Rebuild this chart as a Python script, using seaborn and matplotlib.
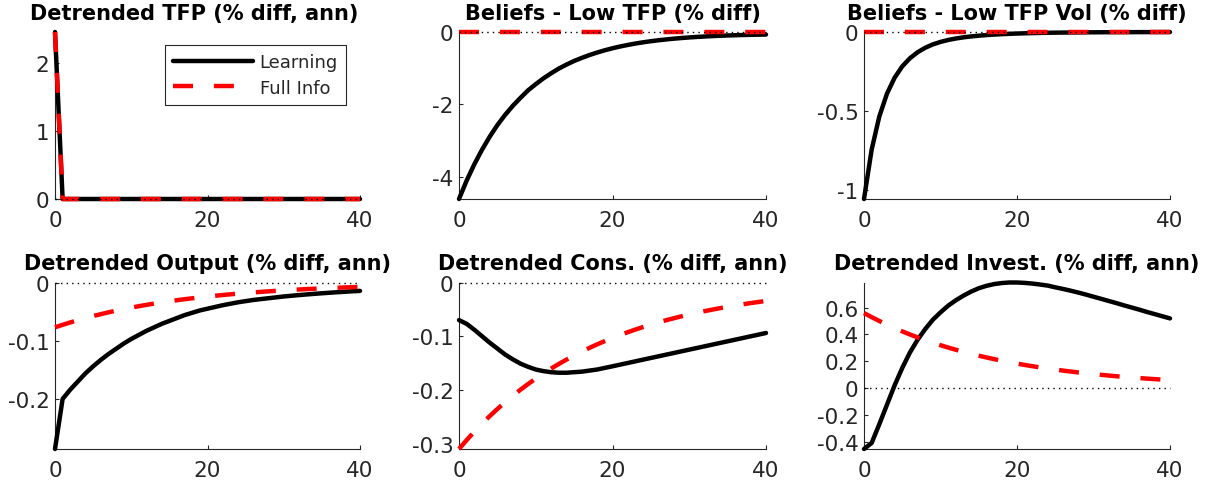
import matplotlib
matplotlib.use("Agg")
import matplotlib.pyplot as plt
import seaborn as sns
import pandas as pd
from matplotlib.ticker import FixedLocator, FuncFormatter

# Impulse-response horizon (quarters)
quarters = list(range(41))

# Detrended TFP (% diff, ann)
tfp_learning = [2.45, 0, 0, 0, 0, 0, 0, 0, 0, 0, 0, 0, 0, 0, 0, 0, 0, 0, 0, 0, 0,
                0, 0, 0, 0, 0, 0, 0, 0, 0, 0, 0, 0, 0, 0, 0, 0, 0, 0, 0, 0]
tfp_full = [2.45, 0, 0, 0, 0, 0, 0, 0, 0, 0, 0, 0, 0, 0, 0, 0, 0, 0, 0, 0, 0,
            0, 0, 0, 0, 0, 0, 0, 0, 0, 0, 0, 0, 0, 0, 0, 0, 0, 0, 0, 0]

# Beliefs - Low TFP (% diff)
low_tfp_learning = [-4.61, -4.10, -3.65, -3.25, -2.89, -2.57, -2.29, -2.04, -1.82, -1.61,
                    -1.44, -1.28, -1.14, -1.01, -0.90, -0.80, -0.715, -0.636, -0.567, -0.504,
                    -0.449, -0.400, -0.357, -0.318, -0.284, -0.254, -0.228, -0.205, -0.184, -0.166,
                    -0.150, -0.136, -0.124, -0.113, -0.104, -0.096, -0.089, -0.083, -0.078, -0.074,
                    -0.070]
low_tfp_full = [0, 0, 0, 0, 0, 0, 0, 0, 0, 0, 0, 0, 0, 0, 0, 0, 0, 0, 0, 0, 0,
                0, 0, 0, 0, 0, 0, 0, 0, 0, 0, 0, 0, 0, 0, 0, 0, 0, 0, 0, 0]

# Beliefs - Low TFP Vol (% diff)
low_vol_learning = [-1.055, -0.743, -0.534, -0.390, -0.289, -0.217, -0.166, -0.128, -0.0997, -0.0784,
                    -0.0626, -0.0505, -0.0411, -0.0338, -0.0280, -0.0233, -0.0194, -0.0163, -0.0137, -0.0115,
                    -0.0097, -0.0082, -0.0069, -0.0058, -0.0049, -0.0042, -0.0036, -0.0031, -0.0026, -0.0022,
                    -0.0019, -0.0016, -0.0014, -0.0012, -0.0010, -0.0009, -0.0008, -0.0007, -0.0006, -0.0005,
                    -0.0004]
low_vol_full = [0, 0, 0, 0, 0, 0, 0, 0, 0, 0, 0, 0, 0, 0, 0, 0, 0, 0, 0, 0, 0,
                0, 0, 0, 0, 0, 0, 0, 0, 0, 0, 0, 0, 0, 0, 0, 0, 0, 0, 0, 0]

# Detrended Output (% diff, ann)
output_learning = [-0.286, -0.200, -0.184, -0.170, -0.156, -0.144, -0.133, -0.123, -0.114, -0.105,
                   -0.097, -0.090, -0.083, -0.077, -0.071, -0.066, -0.061, -0.056, -0.052, -0.048,
                   -0.045, -0.042, -0.039, -0.0365, -0.034, -0.032, -0.030, -0.0285, -0.027, -0.0255,
                   -0.024, -0.0228, -0.0216, -0.0205, -0.0195, -0.0185, -0.0176, -0.0167, -0.0159, -0.0151,
                   -0.0144]
output_full = [-0.0770, -0.0727, -0.0686, -0.0647, -0.0610, -0.0576, -0.0544, -0.0513, -0.0484, -0.0457,
               -0.0431, -0.0407, -0.0384, -0.0362, -0.0342, -0.0323, -0.0304, -0.0287, -0.0271, -0.0256,
               -0.0241, -0.0228, -0.0215, -0.0203, -0.0191, -0.0180, -0.0170, -0.0161, -0.0152, -0.0143,
               -0.0135, -0.0127, -0.0120, -0.0113, -0.0107, -0.0101, -0.0095, -0.0090, -0.0085, -0.0080,
               -0.0076]

# Detrended Cons. (% diff, ann)
cons_learning = [-0.070, -0.077, -0.088, -0.100, -0.112, -0.123, -0.134, -0.143, -0.151, -0.157,
                 -0.162, -0.165, -0.167, -0.168, -0.168, -0.167, -0.166, -0.164, -0.162, -0.159,
                 -0.156, -0.1529, -0.1498, -0.1467, -0.1436, -0.1405, -0.1374, -0.1343, -0.1312, -0.1281,
                 -0.1250, -0.1219, -0.1188, -0.1157, -0.1126, -0.1095, -0.1064, -0.1033, -0.1002, -0.0971,
                 -0.0940]
cons_full = [-0.310, -0.2934, -0.2777, -0.2629, -0.2488, -0.2355, -0.2229, -0.2110, -0.1997, -0.1890,
             -0.1789, -0.1693, -0.1603, -0.1517, -0.1436, -0.1359, -0.1286, -0.1217, -0.1152, -0.1091,
             -0.1032, -0.0977, -0.0925, -0.0875, -0.0828, -0.0784, -0.0742, -0.0702, -0.0665, -0.0629,
             -0.0595, -0.0564, -0.0533, -0.0505, -0.0478, -0.0452, -0.0428, -0.0405, -0.0383, -0.0363,
             -0.0343]

# Detrended Invest. (% diff, ann)
invest_learning = [-0.455, -0.410, -0.270, -0.125, 0.020, 0.150, 0.265, 0.360, 0.440, 0.510,
                   0.565, 0.615, 0.655, 0.690, 0.720, 0.745, 0.763, 0.776, 0.784, 0.788,
                   0.788, 0.785, 0.780, 0.773, 0.765, 0.752, 0.740, 0.727, 0.713, 0.698,
                   0.682, 0.666, 0.650, 0.634, 0.617, 0.601, 0.585, 0.568, 0.552, 0.536,
                   0.520]
invest_full = [0.560, 0.5295, 0.5006, 0.4734, 0.4476, 0.4232, 0.4001, 0.3783, 0.3577, 0.3382,
               0.3198, 0.3024, 0.2859, 0.2703, 0.2556, 0.2416, 0.2285, 0.2160, 0.2042, 0.1931,
               0.1826, 0.1726, 0.1632, 0.1543, 0.1459, 0.1380, 0.1305, 0.1233, 0.1166, 0.1103,
               0.1043, 0.0986, 0.0932, 0.0881, 0.0833, 0.0788, 0.0745, 0.0704, 0.0666, 0.0630,
               0.0595]

titles = ["Detrended TFP (% diff, ann)", "Beliefs - Low TFP (% diff)",
          "Beliefs - Low TFP Vol (% diff)", "Detrended Output (% diff, ann)",
          "Detrended Cons. (% diff, ann)", "Detrended Invest. (% diff, ann)"]
series_learning = [tfp_learning, low_tfp_learning, low_vol_learning,
                   output_learning, cons_learning, invest_learning]
series_full = [tfp_full, low_tfp_full, low_vol_full,
               output_full, cons_full, invest_full]
y_ticks = [[0, 1, 2], [-4, -2, 0], [-1, -0.5, 0], [-0.2, -0.1, 0],
           [-0.3, -0.2, -0.1, 0], [-0.4, -0.2, 0, 0.2, 0.4, 0.6]]
x_ticks = [0, 20, 40]
legend_labels = ["Learning", "Full Info"]

sns.set_theme(style="white")
plt.rcParams["font.family"] = ["DejaVu Sans"]
plt.rcParams["axes.unicode_minus"] = False

W, H = 1207, 489
fig = plt.figure(figsize=(W / 100, H / 100), dpi=100)
fig.patch.set_facecolor("white")

# axes boxes in pixels: (left, right) per column, (top, bottom) per row
col_x = [(55, 360), (459, 766), (864, 1170)]
row_y = [(33, 200), (283.5, 450)]

tick_color = "#262626"
lw = 3.2

for i in range(6):
    r, c = divmod(i, 3)
    x0, x1 = col_x[c]
    y0, y1 = row_y[r]
    ax = fig.add_axes([x0 / W, 1 - y1 / H, (x1 - x0) / W, (y1 - y0) / H])
    ax.set_facecolor("white")

    df = pd.DataFrame({"t": quarters,
                       "learning": series_learning[i],
                       "full": series_full[i]})
    sns.lineplot(data=df, x="t", y="learning", ax=ax, color="black", lw=lw,
                 estimator=None, legend=False, label=legend_labels[0], zorder=2,
                 clip_on=False)
    sns.lineplot(data=df, x="t", y="full", ax=ax, color="#ff0000", lw=lw,
                 linestyle=(0, (4.5, 4.7)), dash_capstyle="butt",
                 estimator=None, legend=False, label=legend_labels[1], zorder=3,
                 clip_on=False)
    ax.plot([quarters[0], quarters[-1]], [0, 0], color="black", lw=1.0,
            linestyle=(0, (1, 3)), zorder=4, clip_on=False)

    lo = min(min(series_learning[i]), min(series_full[i]), 0)
    hi = max(max(series_learning[i]), max(series_full[i]), 0)
    ax.set_xlim(quarters[0], quarters[-1])
    ax.set_ylim(lo, hi)
    ax.xaxis.set_major_locator(FixedLocator(x_ticks))
    ax.yaxis.set_major_locator(FixedLocator(y_ticks[i]))
    ax.xaxis.set_major_formatter(FuncFormatter(lambda v, p: f"{v:g}"))
    ax.yaxis.set_major_formatter(FuncFormatter(lambda v, p: f"{v:g}"))
    ax.set_xlabel("")
    ax.set_ylabel("")

    for side in ("top", "right"):
        ax.spines[side].set_visible(False)
    for side in ("left", "bottom"):
        ax.spines[side].set_color(tick_color)
        ax.spines[side].set_linewidth(0.8)
        ax.spines[side].set_zorder(1)
    ax.tick_params(axis="both", direction="in", length=3, width=0.8,
                   color=tick_color, labelcolor=tick_color, labelsize=15.5,
                   left=True, bottom=True)
    ax.tick_params(axis="y", pad=4)
    ax.tick_params(axis="x", pad=8)

    tx = 0.455 if i == 0 else 0.5
    ax.set_title(titles[i], fontsize=15, fontweight="bold", color="black",
                 pad=9.5, x=tx)

    if i == 0:
        handles = ax.get_lines()[:2]
        leg = ax.legend(handles=handles, labels=legend_labels, loc="upper right",
                        bbox_to_anchor=(0.954, 0.922), borderaxespad=0,
                        fontsize=13, handlelength=4.4, handletextpad=0.37,
                        borderpad=0.45, labelspacing=0.42, frameon=True,
                        fancybox=False, framealpha=1)
        leg.set_zorder(10)
        leg.get_frame().set_edgecolor("#262626")
        leg.get_frame().set_linewidth(0.8)
        for txt in leg.get_texts():
            txt.set_color(tick_color)

fig.savefig("out.png", dpi=100, facecolor="white")
